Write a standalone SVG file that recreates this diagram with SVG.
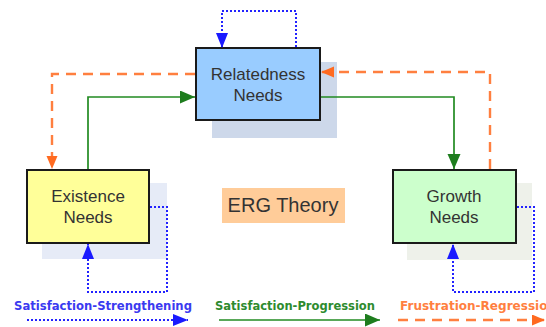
<svg xmlns="http://www.w3.org/2000/svg" width="546" height="327" viewBox="0 0 546 327">
<defs>
<style>
.box{stroke:#1a1a1a;stroke-width:2}
.lbl{font-family:"Liberation Sans",Arial,sans-serif;font-size:17px;fill:#333;text-anchor:middle}
.sat{fill:none;stroke:#2222ff;stroke-width:2;stroke-dasharray:2 2}
.pro{fill:none;stroke:#228b22;stroke-width:1.7}
.fru{fill:none;stroke:#ff7f3f;stroke-width:2.4;stroke-dasharray:10 7}
.leg{font-family:"DejaVu Sans",Verdana,sans-serif;font-size:11.5px;font-weight:bold}
</style>
<marker id="ab" markerUnits="userSpaceOnUse" markerWidth="16" markerHeight="12" refX="15" refY="6" orient="auto"><path d="M0,0 L15,6 L0,12 Z" fill="#1a1aff"/></marker>
<marker id="ag" markerUnits="userSpaceOnUse" markerWidth="16" markerHeight="14" refX="15" refY="6.5" orient="auto"><path d="M0,0 L15,6.5 L0,13 Z" fill="#1e7d1e"/></marker>
<marker id="ao" markerUnits="userSpaceOnUse" markerWidth="14" markerHeight="12" refX="13" refY="5.5" orient="auto"><path d="M0,0 L13,5.5 L0,11 Z" fill="#ff6a20"/></marker>
</defs>
<rect width="546" height="327" fill="#fff"/>
<g id="relatedness">
<rect x="212" y="62" width="125" height="76" fill="#cdd8ea"/>
<rect class="box" x="196" y="48" width="124" height="72" fill="#99ccff"/>
<text class="lbl" x="258" y="80">Relatedness</text>
<text class="lbl" x="258" y="101">Needs</text>
</g>
<g id="existence">
<rect x="42" y="183" width="125" height="76" fill="#e6ebf7"/>
<rect class="box" x="27" y="170" width="122" height="73" fill="#ffff99"/>
<text class="lbl" x="88" y="202">Existence</text>
<text class="lbl" x="88" y="223">Needs</text>
</g>
<g id="growth">
<rect x="407" y="183" width="125" height="77" fill="#eef1ea"/>
<rect class="box" x="393" y="170" width="123" height="73" fill="#ccffcc"/>
<text class="lbl" x="454" y="202">Growth</text>
<text class="lbl" x="454" y="223">Needs</text>
</g>
<g id="erg">
<rect x="222" y="188" width="123" height="35" fill="#ffcc99"/>
<text x="283" y="212" font-family="Liberation Sans,Arial,sans-serif" font-size="20" fill="#333" text-anchor="middle">ERG Theory</text>
</g>
<g id="connectors">
<path class="sat" d="M296,47 V11 H222 V48" marker-end="url(#ab)"/>
<path class="sat" d="M150,207 H167 V292 H88 V244" marker-end="url(#ab)"/>
<path class="sat" d="M517,207 H534 V292 H453 V244" marker-end="url(#ab)"/>
<path class="fru" d="M195,74 H52 V169" marker-end="url(#ao)"/>
<path class="fru" d="M490,169 V72 H321" marker-end="url(#ao)"/>
<path class="pro" d="M88,169 V97 H195" marker-end="url(#ag)"/>
<path class="pro" d="M321,97 H454 V169" marker-end="url(#ag)"/>
</g>
<g id="legend">
<text class="leg" x="14" y="310" fill="#3a3af0" textLength="178" lengthAdjust="spacingAndGlyphs">Satisfaction-Strengthening</text>
<path class="sat" d="M27,320 H188" marker-end="url(#ab)"/>
<text class="leg" x="215" y="310" fill="#2e8b2e" textLength="160" lengthAdjust="spacingAndGlyphs">Satisfaction-Progression</text>
<path class="pro" d="M219,320 H380" marker-end="url(#ag)"/>
<text class="leg" x="400" y="310" fill="#ff7f3f" textLength="156" lengthAdjust="spacingAndGlyphs">Frustration-Regression</text>
<path class="fru" d="M398,320 H545" marker-end="url(#ao)"/>
</g>
</svg>
